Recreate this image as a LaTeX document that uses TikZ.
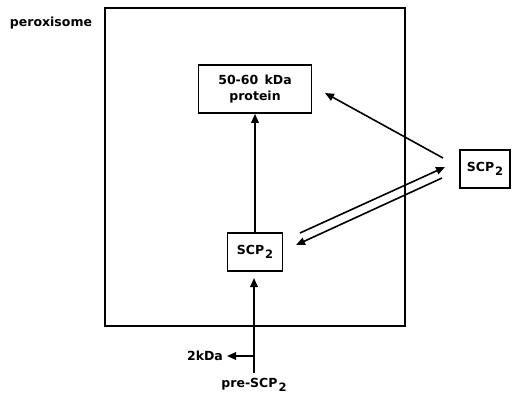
\documentclass[tikz,border=0pt]{standalone}
\usepackage{fontspec}
\setmainfont{DejaVu Sans}
\usetikzlibrary{arrows.meta}
\newcommand{\scptwo}{SCP\kern0.08em\raisebox{-0.6ex}{\fontsize{11.5}{11.5}\selectfont 2}}
\tikzset{
  lbl/.style={font=\bfseries\fontsize{12.5}{15}\selectfont, inner sep=0pt},
  boxnode/.style={draw, line width=1.6pt, font=\bfseries\fontsize{12.5}{15.5}\selectfont,
    align=center, inner sep=0pt},
  conn/.style={line width=1.6pt, -{Triangle[length=9pt,width=7.5pt]}},
}
\begin{document}
\begin{tikzpicture}[x=1pt,y=-1pt]
  \useasboundingbox (0,0) rectangle (514,399);
  % peroxisome membrane
  \node[lbl] (perox) at (51,23) {peroxisome};
  \node[draw, line width=2.2pt, minimum width=300pt, minimum height=318pt, inner sep=0pt]
    (frame) at (255,167) {};
  % compartments and proteins
  \node[boxnode, minimum width=113pt, minimum height=48pt] (protein) at (255,89)
    {50-60\hspace{0.5em}kDa\\protein};
  \node[boxnode, minimum width=55pt, minimum height=38pt] (scpL) at (255,252) {\scptwo};
  \node[boxnode, minimum width=50pt, minimum height=38pt] (scpR) at (485,169) {\scptwo};
  \node[lbl] (pre) at (254,385) {pre-\scptwo};
  \node[lbl] (kda) at (205,356) {2kDa};
  % connector ends
  \coordinate (rTop) at (443,158);
  \coordinate (pTip) at (325,93);
  \coordinate (upA) at (300,233);
  \coordinate (upB) at (445,167);
  \coordinate (loA) at (442,178);
  \coordinate (loB) at (296,245);
  \coordinate (preTop) at (254,373);
  \coordinate (branch) at (254,356);
  \coordinate (scpTip) at (254,278);
  \coordinate (kdaTip) at (227,356);
  % arrows
  \draw[conn] (scpL.north) -- (protein.south);
  \draw[conn] (rTop) -- (pTip);
  \draw[conn] (upA) -- (upB);
  \draw[conn] (loA) -- (loB);
  \draw[conn] (preTop) -- (scpTip);
  \draw[conn] (branch) -- (kdaTip);
\end{tikzpicture}
\end{document}
